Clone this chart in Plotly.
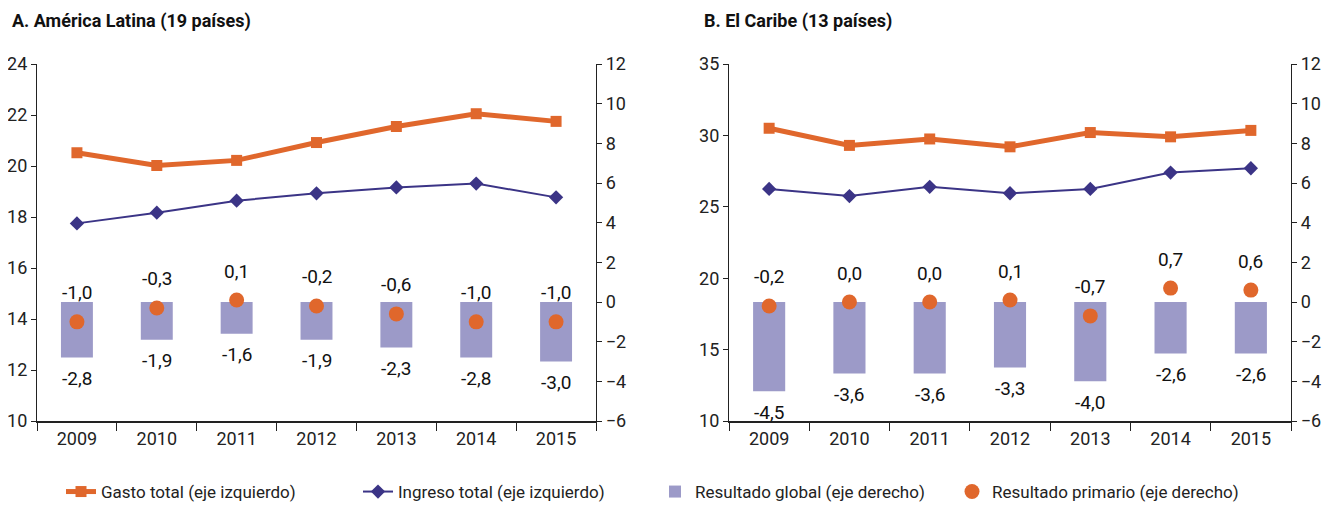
import plotly.graph_objects as go

years = ["2009", "2010", "2011", "2012", "2013", "2014", "2015"]

# Panel A: América Latina
la_gasto = [20.52, 20.02, 20.22, 20.92, 21.55, 22.05, 21.75]
la_ingreso = [17.75, 18.17, 18.64, 18.93, 19.16, 19.31, 18.77]
la_global = [-2.8, -1.9, -1.6, -1.9, -2.3, -2.8, -3.0]
la_primario = [-1.0, -0.3, 0.1, -0.2, -0.6, -1.0, -1.0]

# Panel B: El Caribe
cb_gasto = [30.5, 29.3, 29.75, 29.2, 30.2, 29.9, 30.35]
cb_ingreso = [26.25, 25.75, 26.4, 25.95, 26.25, 27.4, 27.7]
cb_global = [-4.5, -3.6, -3.6, -3.3, -4.0, -2.6, -2.6]
cb_primario = [-0.2, 0.0, 0.0, 0.1, -0.7, 0.7, 0.6]

titles = ["A. América Latina (19 países)", "B. El Caribe (13 países)"]

ORANGE = "#E0672C"
NAVY = "#3B3486"
LAV = "#9C9AC8"
FONT = "Roboto, Liberation Sans Narrow, DejaVu Sans Condensed, sans-serif"

# page offset (body margin) compensation
OFF = 8
W, H = 1332 - OFF, 505 - OFF


def px(x):
    return (x - OFF) / W


def py(y):
    return 1 - (y - OFF) / H


def fmt(v):
    return f"{v:.1f}".replace(".", ",")


fig = go.Figure()

panels = [
    (la_gasto, la_ingreso, la_global, la_primario, "x", "y", "y2", True),
    (cb_gasto, cb_ingreso, cb_global, cb_primario, "x2", "y3", "y4", False),
]

annotations = []
for gasto, ingreso, glob, prim, xa, ya, yb, show in panels:
    fig.add_trace(go.Bar(x=years, y=glob, xaxis=xa, yaxis=yb, width=0.4,
                         marker=dict(color=LAV, line=dict(width=0)),
                         name="Resultado global (eje derecho)", showlegend=show,
                         legendrank=3))
    fig.add_trace(go.Scatter(x=years, y=prim, xaxis=xa, yaxis=yb, mode="markers",
                             marker=dict(color=ORANGE, size=15, symbol="circle"),
                             name="Resultado primario (eje derecho)", showlegend=show,
                             legendrank=4))
    fig.add_trace(go.Scatter(x=years, y=gasto, xaxis=xa, yaxis=ya, mode="lines+markers",
                             line=dict(color=ORANGE, width=5),
                             marker=dict(color=ORANGE, size=11, symbol="square"),
                             name="Gasto total (eje izquierdo)", showlegend=show,
                             legendrank=1))
    fig.add_trace(go.Scatter(x=years, y=ingreso, xaxis=xa, yaxis=ya, mode="lines+markers",
                             line=dict(color=NAVY, width=2),
                             marker=dict(color=NAVY, size=11, symbol="diamond"),
                             name="Ingreso total (eje izquierdo)", showlegend=show,
                             legendrank=2))
    for i, (g, p) in enumerate(zip(glob, prim)):
        annotations.append(dict(x=i, y=p, xref=xa, yref=yb, text=fmt(p),
                                showarrow=False, yshift=29,
                                font=dict(size=19, color="#111", family=FONT)))
        annotations.append(dict(x=i, y=g, xref=xa, yref=yb, text=fmt(g),
                                showarrow=False, yshift=-21,
                                font=dict(size=19, color="#111", family=FONT)))

annotations.append(dict(x=px(10), y=py(21), xref="paper", yref="paper",
                        xanchor="left", yanchor="middle", showarrow=False,
                        text="<b>" + titles[0] + "</b>",
                        font=dict(size=18, color="#111", family=FONT)))
annotations.append(dict(x=px(702), y=py(21), xref="paper", yref="paper",
                        xanchor="left", yanchor="middle", showarrow=False,
                        text="<b>" + titles[1] + "</b>",
                        font=dict(size=18, color="#111", family=FONT)))

ytop = py(64)
ybot = py(421)

axis_common = dict(showline=True, linecolor="#222", linewidth=1.3, ticks="outside",
                   tickcolor="#222", ticklen=5, showgrid=False, zeroline=False,
                   automargin=False,
                   tickfont=dict(size=18, color="#222", family=FONT))

xcommon = dict(axis_common, type="category", tickson="boundaries", ticklen=8,
               linewidth=2, range=[-0.5, 6.5])

fig.update_layout(
    template="none",
    width=W, height=H,
    margin=dict(l=0, r=0, t=0, b=0, autoexpand=False),
    paper_bgcolor="white", plot_bgcolor="white",
    font=dict(family=FONT, size=18, color="#222"),
    barmode="overlay",
    showlegend=True,
    legend=dict(orientation="h", x=px(61), y=py(492), xanchor="left",
                yanchor="middle", entrywidth=252, traceorder="normal",
                bgcolor="rgba(0,0,0,0)",
                font=dict(size=17, color="#222", family=FONT)),
    annotations=annotations,
    xaxis=dict(xcommon, domain=[px(37), px(596)], anchor="y"),
    yaxis=dict(axis_common, domain=[ybot, ytop], range=[10, 24], dtick=2, anchor="x"),
    yaxis2=dict(axis_common, overlaying="y", side="right", range=[-6, 12], dtick=2,
                anchor="x"),
    xaxis2=dict(xcommon, domain=[px(729), px(1291)], anchor="y3"),
    yaxis3=dict(axis_common, domain=[ybot, ytop], range=[10, 35], dtick=5, anchor="x2"),
    yaxis4=dict(axis_common, overlaying="y3", side="right", range=[-6, 12], dtick=2,
                anchor="x2"),
)

fig.write_html("out.html")
